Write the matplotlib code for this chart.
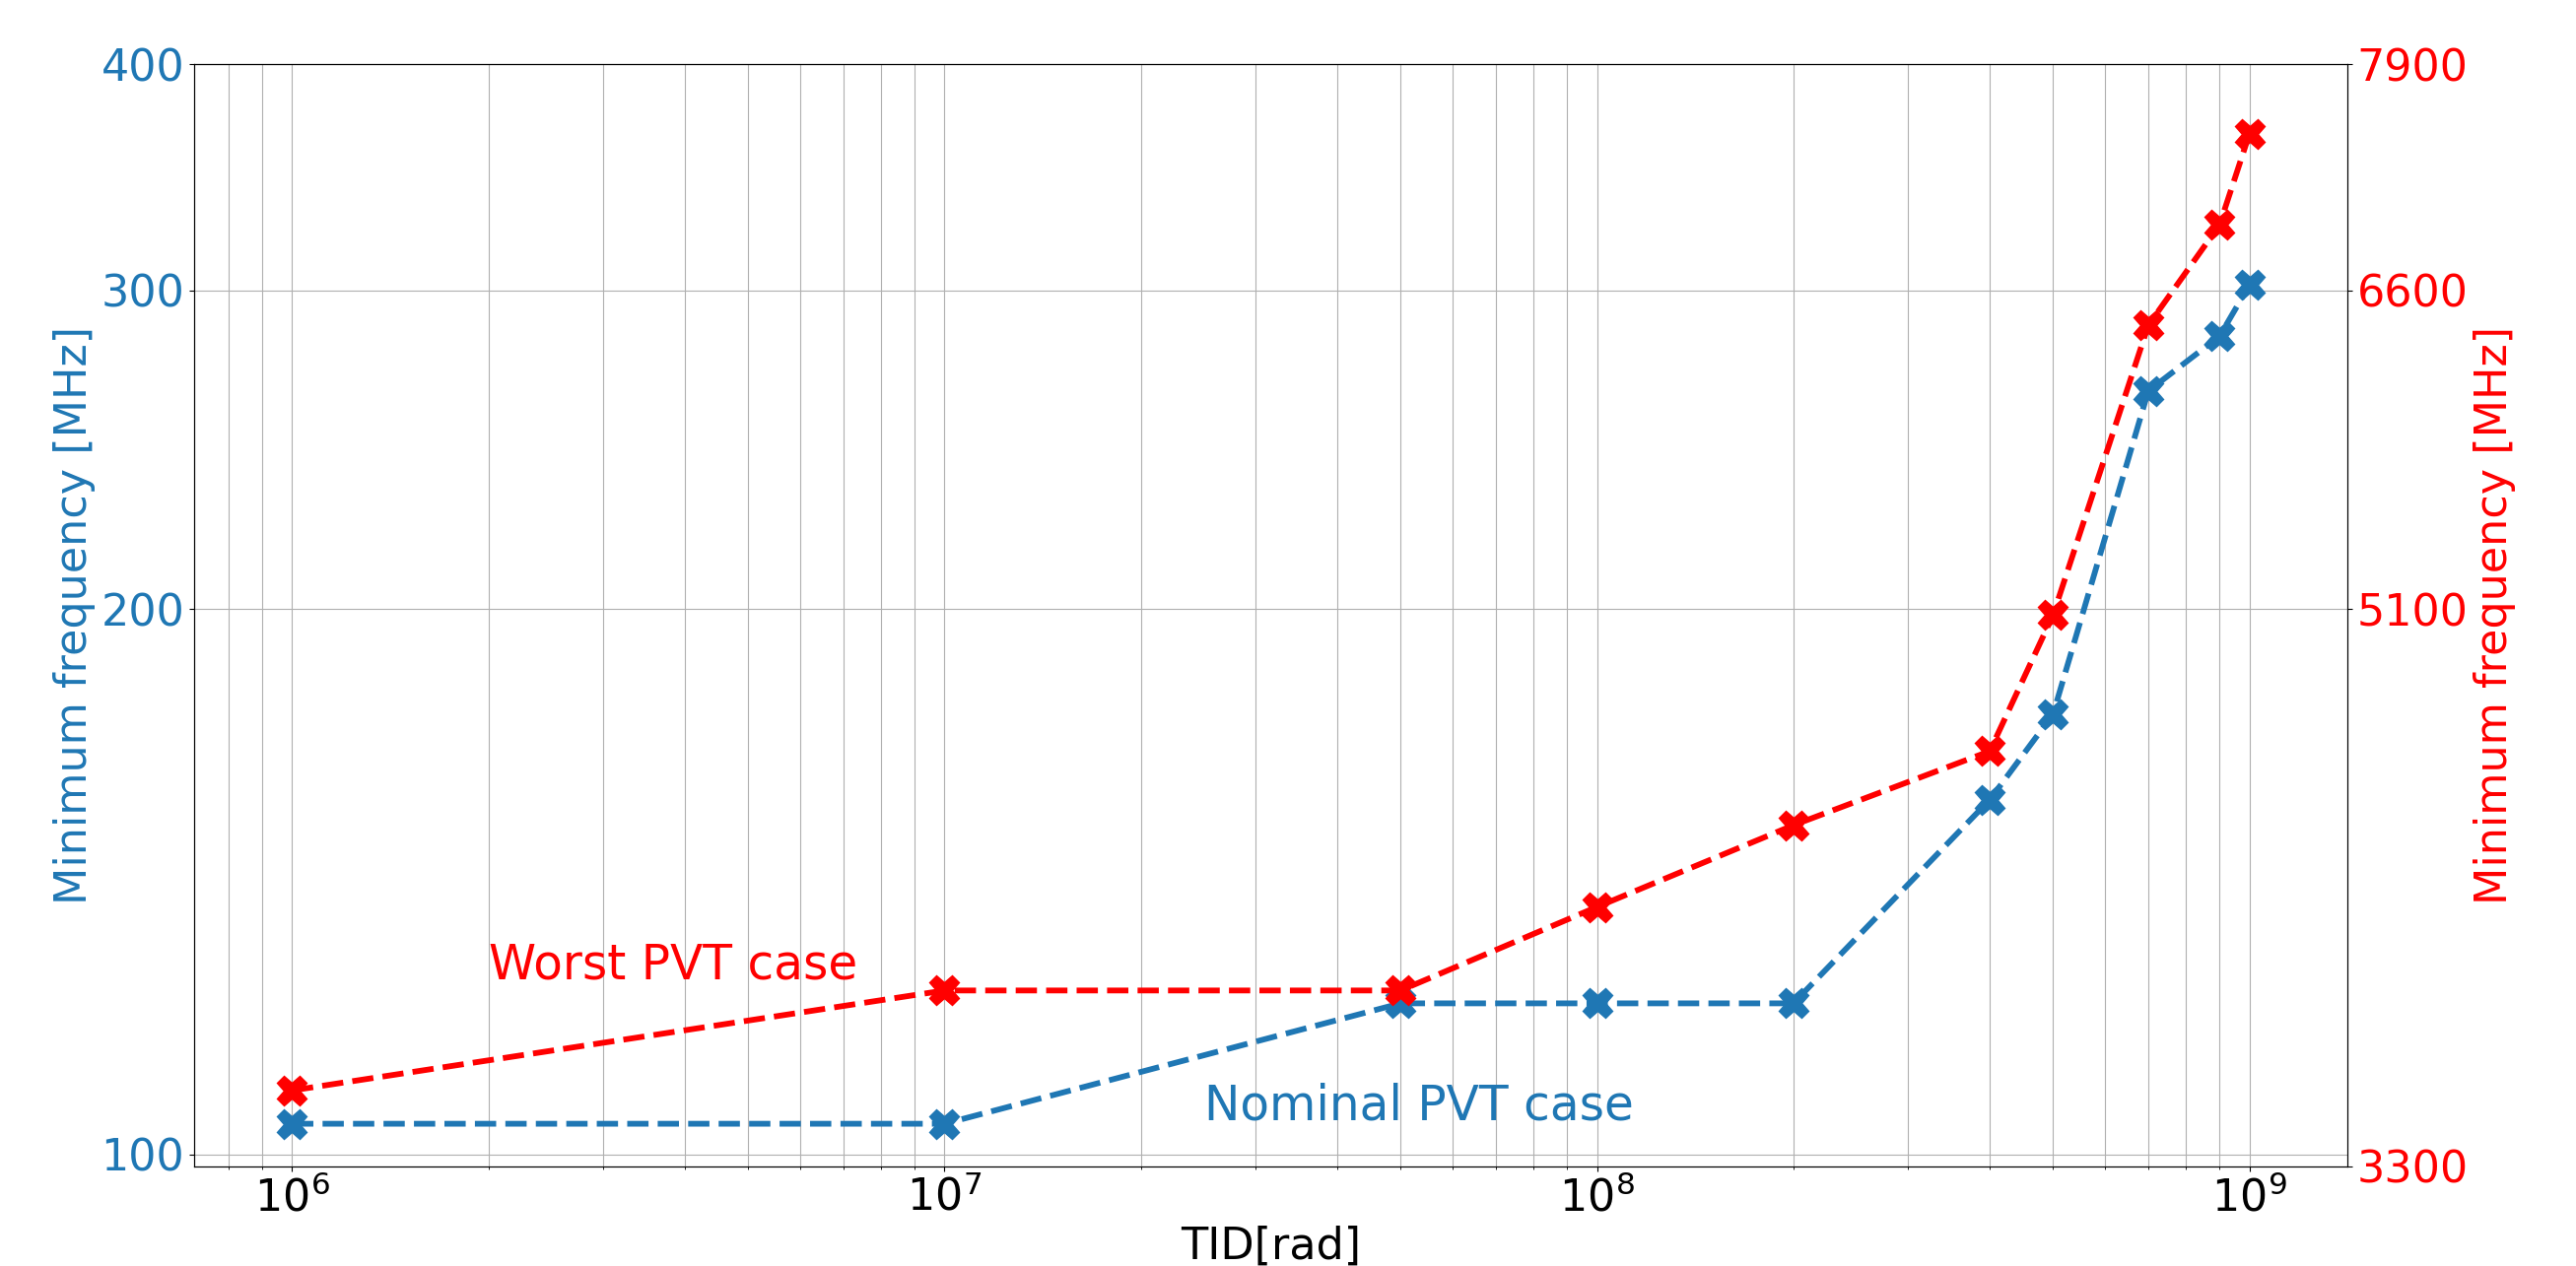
import matplotlib.pyplot as plt
from matplotlib.ticker import NullLocator, FixedLocator

tid = [1e6, 1e7, 5e7, 1e8, 2e8, 4e8, 5e8, 7e8, 9e8, 1e9]
nominal = [104, 104, 121.2, 121.2, 121.2, 157, 175, 264, 283, 302]
# worst case, given at the position it takes on the (shared) log scale
worst = [108.5, 123.2, 123.2, 137, 152, 167, 198.5, 287, 326, 366]

left_ticks = [100, 200, 300, 400]
right_labels = ["3300", "5100", "6600", "7900"]
ylim = (98.5, 400)

blue = "#1f77b4"
red = "red"

fig = plt.figure(figsize=(26.14, 12.85), dpi=100)
ax = fig.add_axes([0.0754, 0.0786, 0.8358, 0.8708])
ax2 = ax.twinx()

ax.plot(tid, nominal, "--X", color=blue, lw=4.2, ms=22)
ax2.plot(tid, worst, "--X", color=red, lw=4.2, ms=22)

ax.set_xscale("log")
ax.set_yscale("log")
ax2.set_yscale("log")
ax.set_ylim(ylim)
ax2.set_ylim(ylim)

ax.yaxis.set_major_locator(FixedLocator(left_ticks))
ax.yaxis.set_minor_locator(NullLocator())
ax.set_yticklabels([str(t) for t in left_ticks])
ax2.yaxis.set_major_locator(FixedLocator([ylim[0]] + left_ticks[1:]))
ax2.yaxis.set_minor_locator(NullLocator())
ax2.set_yticklabels(right_labels)

ax.grid(True, which="both")
ax.tick_params(axis="x", labelsize=32)
ax.tick_params(axis="y", labelsize=32, labelcolor=blue)
ax2.tick_params(axis="y", labelsize=32, labelcolor=red)

ax.set_xlabel("TID[rad]", fontsize=32)
ax.set_ylabel("Minimum frequency [MHz]", fontsize=32, color=blue)
ax2.set_ylabel("Minimum frequency [MHz]", fontsize=32, color=red)

ax.text(2e6, 125, "Worst PVT case", fontsize=35, color=red)
ax.text(2.5e7, 104.5, "Nominal PVT case", fontsize=35, color=blue)

fig.savefig("out.png")
